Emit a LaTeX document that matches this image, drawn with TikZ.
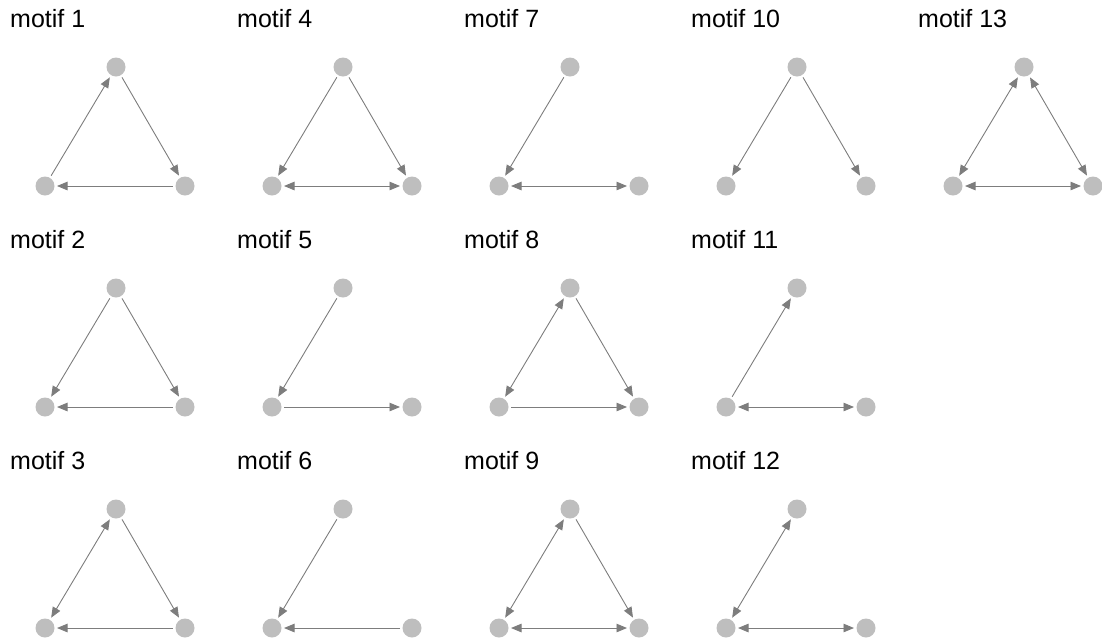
\documentclass[tikz,border=0pt]{standalone}
\usepackage{fontspec}
\setmainfont{Liberation Sans}
\usetikzlibrary{arrows.meta}
\definecolor{nodegray}{RGB}{190,190,190}
\definecolor{edgegray}{RGB}{125,125,125}
\tikzset{
  vtx/.style={circle,fill=nodegray,minimum size=19pt,inner sep=0pt,outer sep=2.5pt},
  arr/.style={draw=edgegray,line width=0.9pt,-{Triangle[length=10.5pt,width=8.5pt]}},
  barr/.style={draw=edgegray,line width=0.9pt,{Triangle[length=10.5pt,width=8.5pt]}-{Triangle[length=10.5pt,width=8.5pt]}},
  lbl/.style={anchor=base west,inner sep=0pt,font=\fontsize{25}{29}\selectfont}
}
\newcommand\motifnodes[4]{%
  \node[lbl] (#1lab) at ({10+227*#2},{27+221*#3}) {#4};
  \node[vtx] (#1t) at ({116+227*#2},{67+221*#3}) {};
  \node[vtx] (#1l) at ({45+227*#2},{186+221*#3}) {};
  \node[vtx] (#1r) at ({185+227*#2},{186+221*#3}) {};
}
\begin{document}
\begin{tikzpicture}[x=1pt,y=-1pt]
\useasboundingbox (0,0) rectangle (1102,641);
% row 1
\motifnodes{a}{0}{0}{motif 1}
\draw[arr] (al) -- (at); \draw[arr] (at) -- (ar); \draw[arr] (ar) -- (al);
\motifnodes{d}{1}{0}{motif 4}
\draw[arr] (dt) -- (dl); \draw[arr] (dt) -- (dr); \draw[barr] (dl) -- (dr);
\motifnodes{g}{2}{0}{motif 7}
\draw[arr] (gt) -- (gl); \draw[barr] (gl) -- (gr);
\motifnodes{j}{3}{0}{motif 10}
\draw[arr] (jt) -- (jl); \draw[arr] (jt) -- (jr);
\motifnodes{m}{4}{0}{motif 13}
\draw[barr] (mt) -- (ml); \draw[barr] (mt) -- (mr); \draw[barr] (ml) -- (mr);
% row 2
\motifnodes{b}{0}{1}{motif 2}
\draw[arr] (bt) -- (bl); \draw[arr] (bt) -- (br); \draw[arr] (br) -- (bl);
\motifnodes{e}{1}{1}{motif 5}
\draw[arr] (et) -- (el); \draw[arr] (el) -- (er);
\motifnodes{h}{2}{1}{motif 8}
\draw[barr] (ht) -- (hl); \draw[arr] (ht) -- (hr); \draw[arr] (hl) -- (hr);
\motifnodes{k}{3}{1}{motif 11}
\draw[arr] (kl) -- (kt); \draw[barr] (kl) -- (kr);
% row 3
\motifnodes{c}{0}{2}{motif 3}
\draw[barr] (ct) -- (cl); \draw[arr] (ct) -- (cr); \draw[arr] (cr) -- (cl);
\motifnodes{f}{1}{2}{motif 6}
\draw[arr] (ft) -- (fl); \draw[arr] (fr) -- (fl);
\motifnodes{i}{2}{2}{motif 9}
\draw[barr] (it) -- (il); \draw[arr] (it) -- (ir); \draw[barr] (il) -- (ir);
\motifnodes{l}{3}{2}{motif 12}
\draw[barr] (lt) -- (ll); \draw[barr] (ll) -- (lr);
\end{tikzpicture}
\end{document}
